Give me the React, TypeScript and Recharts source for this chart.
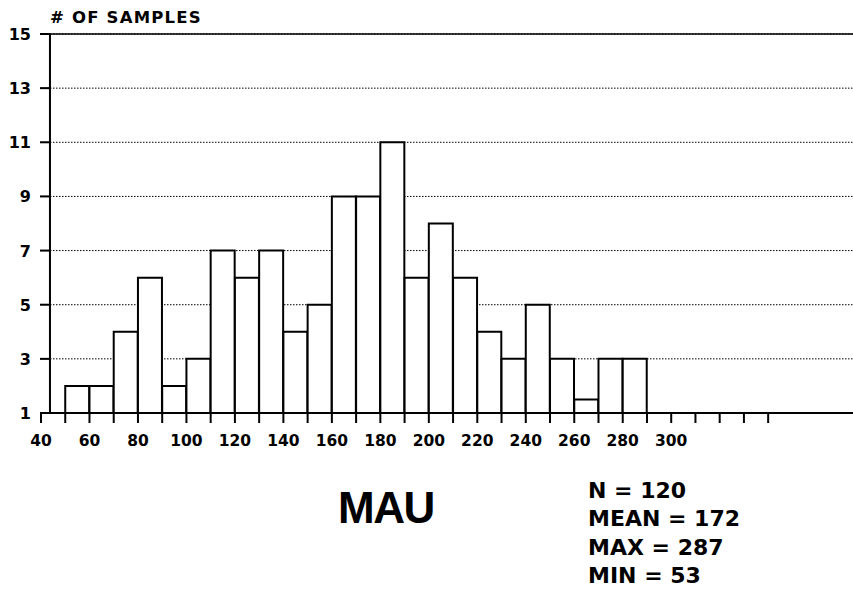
import { BarChart, Bar, XAxis, YAxis, CartesianGrid, ReferenceLine } from 'recharts';

// histogram bins (lower edge of each 10-wide bin) and the sample counts
const binStarts = [50, 60, 70, 80, 90, 100, 110, 120, 130, 140, 150, 160, 170, 180, 190, 200, 210, 220, 230, 240, 250, 260, 270, 280];
const counts = [2, 2, 4, 6, 2, 3, 7, 6, 7, 4, 5, 9, 9, 11, 6, 8, 6, 4, 3, 5, 3, 1.5, 3, 3];

const yTicks = [1, 3, 5, 7, 9, 11, 13, 15];
const xTicks = [40, 50, 60, 70, 80, 90, 100, 110, 120, 130, 140, 150, 160, 170, 180, 190, 200, 210, 220, 230, 240, 250, 260, 270, 280, 290, 300, 310, 320, 330, 340];
const xLabels = [40, 60, 80, 100, 120, 140, 160, 180, 200, 220, 240, 260, 280, 300];

const title = 'MAU';
const yTitle = '# OF SAMPLES';
const stats = ['N = 120', 'MEAN = 172', 'MAX = 287', 'MIN = 53'];

const data = binStarts.map((s, i) => ({ mid: s + 5, count: counts[i] }));

const FONT = '"DejaVu Sans", sans-serif';

const YTick = ({ x, y, payload }: any) => (
  <g>
    <line x1={x - 1} x2={x + 9} y1={y} y2={y} stroke="#000" strokeWidth={2} />
    <text x={x - 10} y={y} dy={6} textAnchor="end" fontFamily={FONT} fontWeight="bold" fontSize={16} fill="#000">
      {payload.value}
    </text>
  </g>
);

const XTick = ({ x, y, payload }: any) =>
  xLabels.includes(payload.value) ? (
    <text x={x} y={y + 23} textAnchor="middle" fontFamily={FONT} fontWeight="bold" fontSize={15.5} fill="#000">
      {payload.value}
    </text>
  ) : (
    <g />
  );

export default function App() {
  return (
    <div style={{ position: 'absolute', left: 0, top: 0, width: 853, height: 599, background: '#fff' }}>
      <BarChart
        width={853}
        height={599}
        data={data}
        margin={{ top: 34, right: 0, bottom: 146, left: 0 }}
        barCategoryGap={0}
        barGap={0}
      >
        <CartesianGrid vertical={false} stroke="#000" strokeWidth={1} strokeDasharray="1.5 1.5" />
        <XAxis
          type="number"
          dataKey="mid"
          domain={[40, 375]}
          ticks={xTicks}
          interval={0}
          height={40}
          tickSize={10}
          tickMargin={0}
          axisLine={{ stroke: '#000', strokeWidth: 2 }}
          tickLine={{ stroke: '#000', strokeWidth: 2 }}
          tick={<XTick />}
        />
        <YAxis
          type="number"
          domain={[1, 15]}
          ticks={yTicks}
          interval={0}
          width={41}
          tickSize={0}
          tickMargin={0}
          axisLine={false}
          tickLine={false}
          tick={<YTick />}
        />
        <ReferenceLine y={15} stroke="#000" strokeWidth={1.5} />
        <ReferenceLine x={43.7} stroke="#000" strokeWidth={2} />
        <Bar dataKey="count" fill="#fff" stroke="#000" strokeWidth={2} isAnimationActive={false} />
      </BarChart>
      <svg width={853} height={599} style={{ position: 'absolute', left: 0, top: 0, pointerEvents: 'none' }}>
        <text x={50} y={23} fontFamily={FONT} fontWeight="bold" fontSize={16.5} letterSpacing={1.2} fill="#000">
          {yTitle}
        </text>
        <text x={338} y={523} fontFamily='"Liberation Sans", Arial, sans-serif' fontWeight="bold" fontSize={44} letterSpacing={-1.5} fill="#000">
          {title}
        </text>
        {stats.map((s, i) => (
          <text key={s} x={588} y={498 + i * 28.3} fontFamily={FONT} fontWeight="bold" fontSize={22} fill="#000">
            {s}
          </text>
        ))}
      </svg>
    </div>
  );
}
